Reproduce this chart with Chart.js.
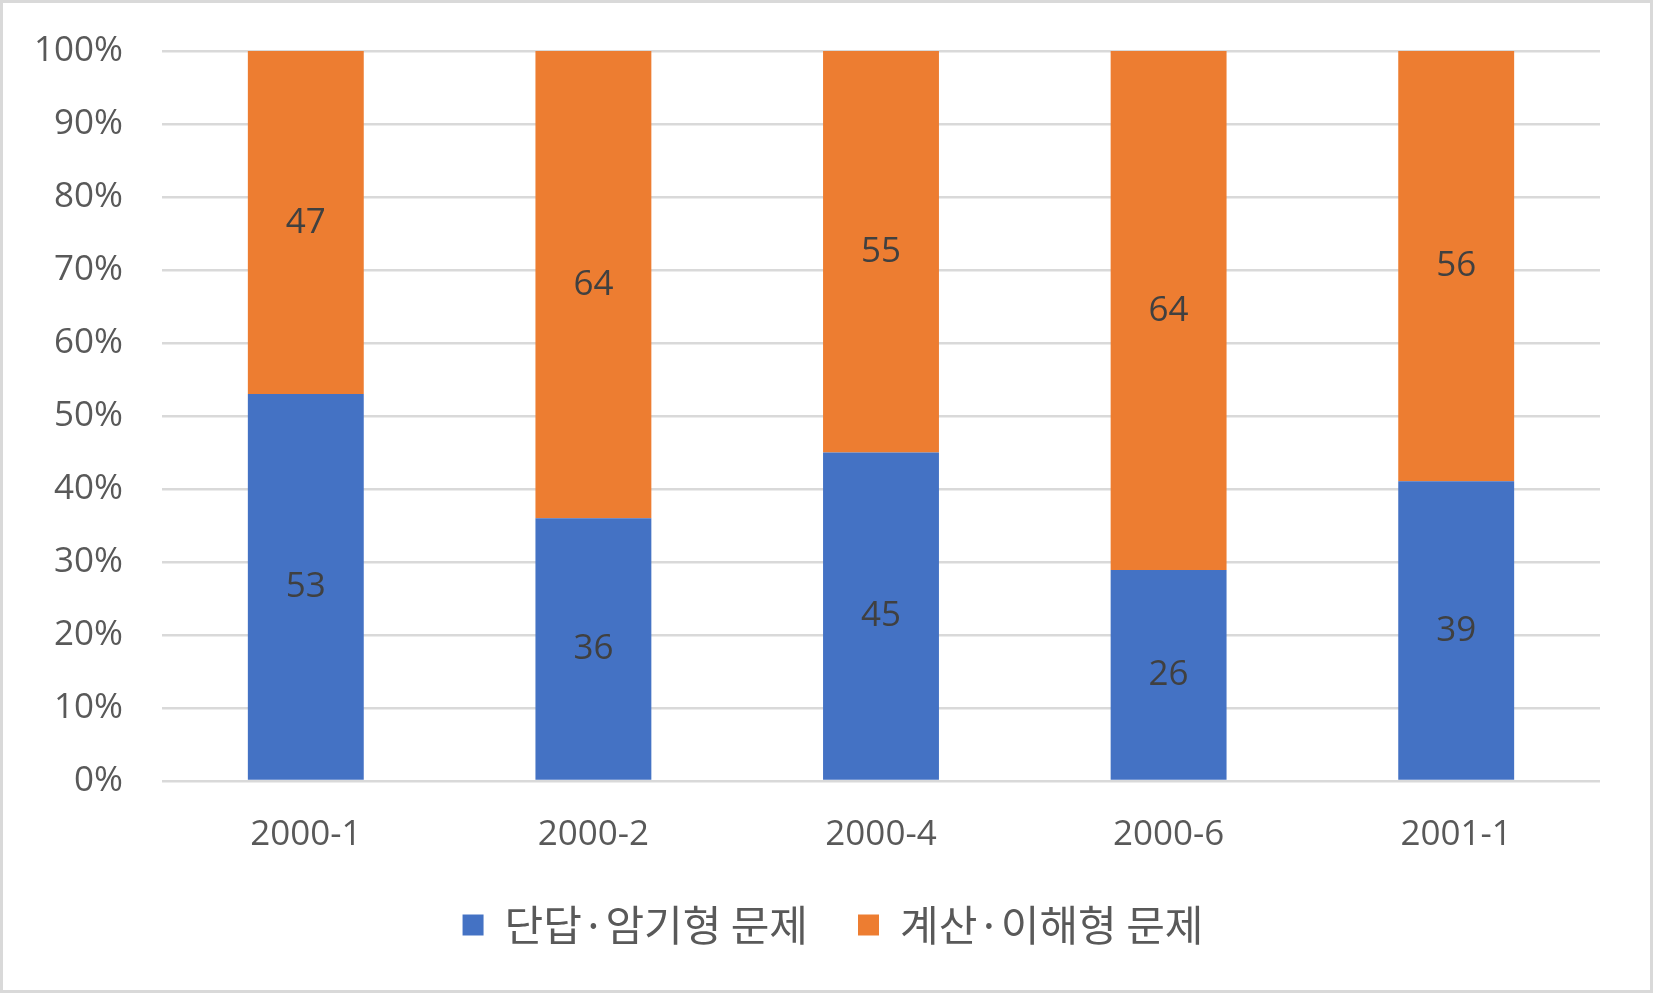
<!DOCTYPE html>
<html>
<head>
<meta charset="utf-8">
<script src="https://cdn.jsdelivr.net/npm/chart.js@4"></script>
<style>
  html, body { margin: 0; padding: 0; background: #fff; }
  #wrap { position: relative; width: 1653px; height: 993px; }
</style>
</head>
<body>
<div id="wrap"><canvas id="grafico" width="1653" height="993"></canvas></div>
<script>
const categorias = ['2000-1', '2000-2', '2000-4', '2000-6', '2001-1'];
const danDap = [53, 36, 45, 26, 39];
const gyesan = [47, 64, 55, 64, 56];
const nombres = ['단답·암기형 문제', '계산·이해형 문제'];

// 100% stacked: share of each column total
const totales = danDap.map((v, i) => v + gyesan[i]);
const pctDanDap = danDap.map((v, i) => v / totales[i] * 100);
const pctGyesan = gyesan.map((v, i) => v / totales[i] * 100);
const crudos = [danDap, gyesan];

const etiquetas = {
  id: 'etiquetas',
  afterDatasetsDraw(chart) {
    const ctx = chart.ctx;
    ctx.save();
    ctx.font = '35px "Open Sans"';
    ctx.fillStyle = '#404040';
    ctx.textAlign = 'center';
    ctx.textBaseline = 'middle';
    chart.data.datasets.forEach((ds, d) => {
      chart.getDatasetMeta(d).data.forEach((bar, i) => {
        const y = (bar.y + bar.base) / 2;
        ctx.fillText(String(crudos[d][i]), bar.x, y);
      });
    });
    ctx.restore();
  }
};

// nudge the legend a bit right, like the original
const leyendaDerecha = {
  id: 'leyendaDerecha',
  afterLayout(chart) {
    const lg = chart.legend;
    lg.left = 66;
    lg.width = lg.right - lg.left;
  }
};

const borde = {
  id: 'borde',
  afterDraw(chart) {
    const ctx = chart.ctx;
    ctx.save();
    ctx.strokeStyle = '#d9d9d9';
    ctx.lineWidth = 3;
    ctx.strokeRect(1.5, 1.5, chart.width - 3, chart.height - 3);
    ctx.restore();
  }
};

new Chart(document.getElementById('grafico').getContext('2d'), {
  type: 'bar',
  data: {
    labels: categorias,
    datasets: [{
      label: nombres[0],
      data: pctDanDap,
      backgroundColor: '#4472c4',
      barPercentage: 0.403,
      categoryPercentage: 1
    }, {
      label: nombres[1],
      data: pctGyesan,
      backgroundColor: '#ed7d31',
      barPercentage: 0.403,
      categoryPercentage: 1
    }]
  },
  options: {
    responsive: false,
    animation: false,
    layout: { padding: { top: 51, right: 53, bottom: 37, left: 0 } },
    scales: {
      x: {
        stacked: true,
        grid: { display: false },
        border: { display: false },
        ticks: { color: '#595959', font: { family: 'Open Sans', size: 35 }, padding: 25 },
        afterFit(scale) { scale.height = 73; }
      },
      y: {
        stacked: true,
        min: 0,
        max: 100,
        border: { display: false },
        grid: { color: '#d9d9d9', lineWidth: 2.5, drawTicks: false },
        ticks: {
          stepSize: 10,
          color: '#595959',
          font: { family: 'Open Sans', size: 35 },
          padding: 39,
          callback: v => v + '%'
        },
        afterFit(scale) {
          scale.width = 162;
          scale.paddingTop = 20;
          scale.paddingBottom = 20;
        }
      }
    },
    plugins: {
      legend: {
        position: 'bottom',
        labels: {
          color: '#595959',
          font: { family: 'Noto Sans CJK KR', size: 42 },
          boxWidth: 21,
          boxHeight: 21,
          padding: 50
        }
      },
      tooltip: { enabled: false }
    }
  },
  plugins: [etiquetas, leyendaDerecha, borde]
});
</script>
</body>
</html>
